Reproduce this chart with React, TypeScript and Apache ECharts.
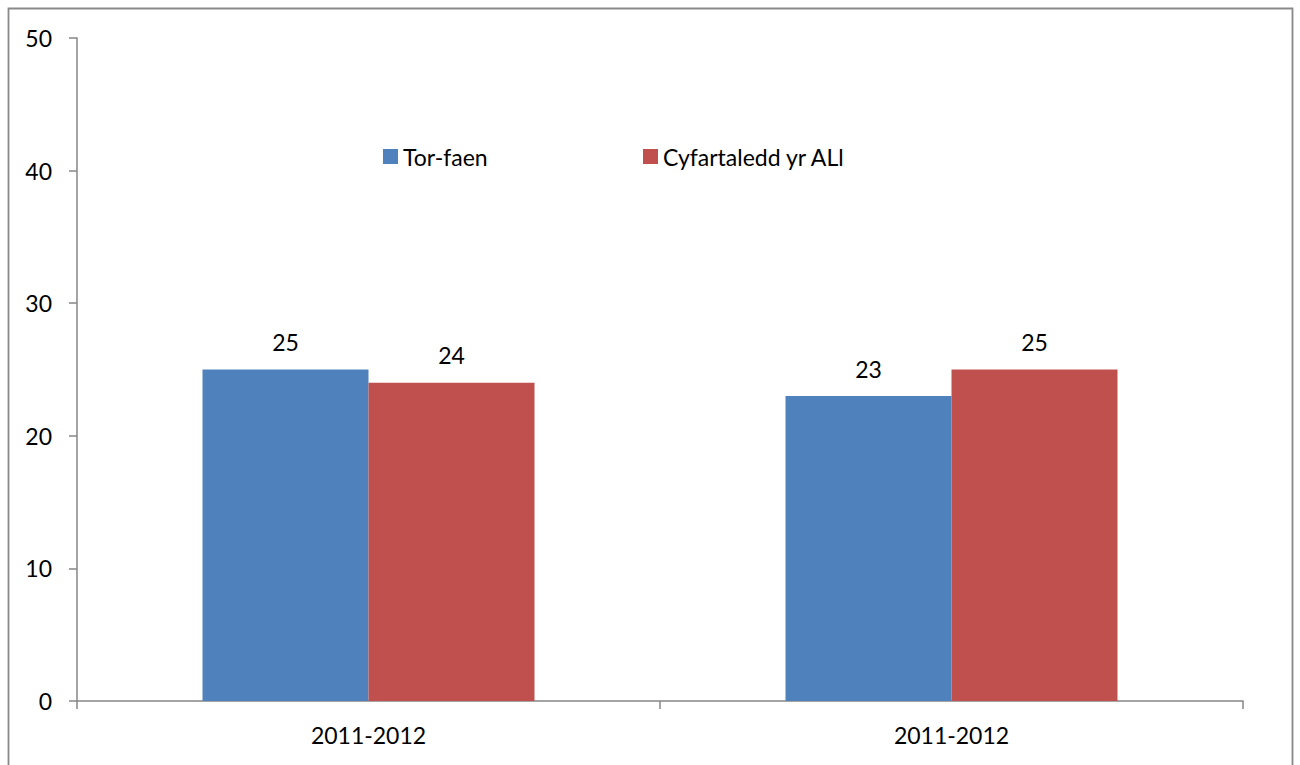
import React, { useEffect, useRef } from "react";
import * as echarts from "echarts";

const categories = ["2011-2012", "2011-2012"];
const seriesNames = ["Tor-faen", "Cyfartaledd yr ALl"];
const torfaenValues = [25, 23];
const averageValues = [24, 25];
const yTicks = { min: 0, max: 50, interval: 10 };

const FONT = "Lato";
const FS = 23;

export default function App() {
  const ref = useRef<HTMLDivElement>(null);
  useEffect(() => {
    if (!ref.current) return;
    const chart = echarts.init(ref.current, null, { renderer: "svg" });
    const labelStyle = {
      show: true,
      position: "top",
      distance: 16,
      color: "#000",
      fontSize: FS,
      fontFamily: FONT,
    };
    const legendBase = {
      top: 145,
      itemWidth: 15,
      itemHeight: 15,
      icon: "rect",
      textStyle: { fontSize: FS, color: "#000", fontFamily: FONT },
      padding: 0,
    };
    chart.setOption({
      animation: false,
      backgroundColor: "#fff",
      textStyle: { fontFamily: FONT },
      grid: { left: 77, right: 57, top: 38, bottom: 64, containLabel: false },
      legend: [
        { ...legendBase, data: [seriesNames[0]], left: 383 },
        { ...legendBase, data: [seriesNames[1]], left: 643 },
      ],
      xAxis: {
        type: "category",
        data: categories,
        axisLine: { lineStyle: { color: "#868686", width: 1.5 } },
        axisTick: { show: true, length: 8, lineStyle: { color: "#868686", width: 1.5 } },
        axisLabel: { color: "#000", fontSize: FS, fontFamily: FONT, margin: 22 },
        splitLine: { show: false },
      },
      yAxis: {
        type: "value",
        min: yTicks.min,
        max: yTicks.max,
        interval: yTicks.interval,
        axisLine: { show: true, lineStyle: { color: "#868686", width: 1.5 } },
        axisTick: { show: true, length: 8, lineStyle: { color: "#868686", width: 1.5 } },
        axisLabel: { color: "#000", fontSize: FS, fontFamily: FONT, margin: 25 },
        splitLine: { show: false },
      },
      series: [
        {
          name: seriesNames[0],
          type: "bar",
          data: torfaenValues,
          barWidth: 166,
          barGap: "0%",
          itemStyle: { color: "#4F81BD" },
          label: labelStyle,
        },
        {
          name: seriesNames[1],
          type: "bar",
          data: averageValues,
          barWidth: 166,
          barGap: "0%",
          itemStyle: { color: "#C0504D" },
          label: labelStyle,
        },
      ],
      graphic: [
        {
          type: "rect",
          silent: true,
          shape: { x: 8.5, y: 8.5, width: 1284, height: 800 },
          style: { fill: "none", stroke: "#898989", lineWidth: 1.8 },
        },
      ],
    });
    return () => chart.dispose();
  }, []);
  return (
    <div
      ref={ref}
      style={{ position: "absolute", left: 0, top: 0, width: 1300, height: 765 }}
    />
  );
}
